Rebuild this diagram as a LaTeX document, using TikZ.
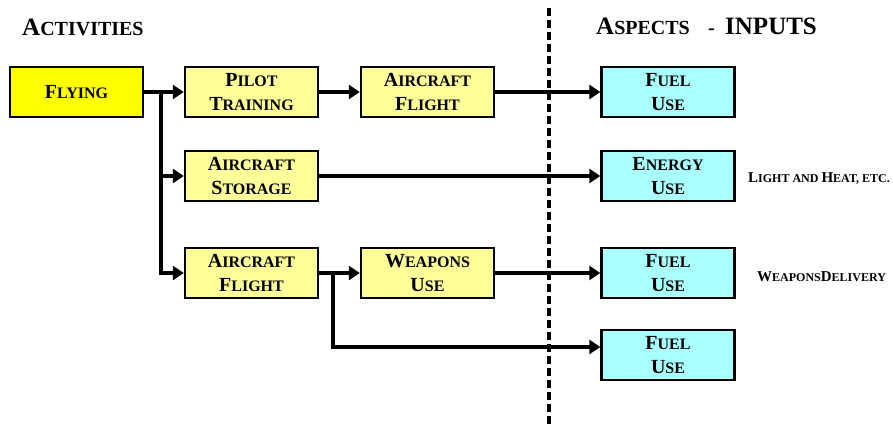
\documentclass[tikz,border=0pt]{standalone}
\usepackage{fontspec}
\setmainfont{Liberation Serif}
\usetikzlibrary{arrows.meta}
\definecolor{flyyel}{RGB}{255,255,0}
\definecolor{ltyel}{RGB}{255,255,153}
\definecolor{ltcyan}{RGB}{170,255,255}
\newcommand\bsc[2]{{\fontsize{20}{24}\selectfont #1}{\fontsize{16}{24}\selectfont #2}}
\newcommand\hsc[2]{{\fontsize{25}{30}\selectfont #1}{\fontsize{20}{30}\selectfont #2}}
\newcommand\lsc[2]{{\fontsize{15}{18}\selectfont #1}{\fontsize{12}{18}\selectfont #2}}
\begin{document}
\begin{tikzpicture}[x=1pt,y=-1pt,
  box/.style={draw=black,line width=2.4pt,minimum width=133pt,minimum height=50pt,inner sep=0pt,align=center,font=\bfseries\fontsize{16}{24}\selectfont},
  actbox/.style={box,fill=ltyel},
  aspbox/.style={box,fill=ltcyan},
  conn/.style={line width=3.4pt,line join=miter,-{Triangle[length=11pt,width=14pt]}},
  hdr/.style={anchor=base west,inner sep=0pt,font=\bfseries},
  lbl/.style={anchor=base west,inner sep=0pt,font=\bfseries}]
\useasboundingbox (0,0) rectangle (893,425);
% headers
\node[hdr] (hact) at (22,36) {\hsc{A}{CTIVITIES}};
\node[hdr] (hasp) at (596,35) {\hsc{A}{SPECTS}};
\node[hdr] (hdash) at (708,35) {\fontsize{20}{24}\selectfont -};
\node[hdr] (hin) at (725,35) {\fontsize{25}{30}\selectfont INPUTS};
% dashed divider
\coordinate (dtop) at (549,8);
\coordinate (dbot) at (549,425);
\draw[line width=3.4pt,dash pattern=on 8pt off 4pt] (dtop) -- (dbot);
% boxes
\node[box,fill=flyyel] (fly) at (76.5,92) {\bsc{F}{LYING}};
\node[actbox] (pilot) at (251.5,92) {\bsc{P}{ILOT}\\\bsc{T}{RAINING}};
\node[actbox] (af1) at (427.5,92) {\bsc{A}{IRCRAFT}\\\bsc{F}{LIGHT}};
\node[actbox] (stor) at (251.5,176) {\bsc{A}{IRCRAFT}\\\bsc{S}{TORAGE}};
\node[actbox] (af2) at (251.5,273) {\bsc{A}{IRCRAFT}\\\bsc{F}{LIGHT}};
\node[actbox] (weap) at (427.5,273) {\bsc{W}{EAPONS}\\\bsc{U}{SE}};
\node[aspbox] (fuel1) at (668,92) {\bsc{F}{UEL}\\\bsc{U}{SE}};
\node[aspbox] (energy) at (668,176) {\bsc{E}{NERGY}\\\bsc{U}{SE}};
\node[aspbox] (fuel3) at (668,273) {\bsc{F}{UEL}\\\bsc{U}{SE}};
\node[aspbox] (fuel4) at (668,355) {\bsc{F}{UEL}\\\bsc{U}{SE}};
% side labels
\node[lbl] (light) at (748,182) {\lsc{L}{IGHT AND }\lsc{H}{EAT, ETC.}};
\node[lbl] (wdel) at (757,281) {\lsc{W}{EAPONS}\lsc{D}{ELIVERY}};
% connectors
\coordinate (j1) at (161,92);
\coordinate (j1b) at (161,176);
\coordinate (j1c) at (161,273);
\coordinate (j2) at (333,273);
\coordinate (j2b) at (333,347);
\draw[conn] (fly.east) -- (pilot.west);
\draw[conn] (j1) -- (j1c) -- (af2.west);
\draw[conn] (j1b) -- (stor.west);
\draw[conn] (pilot.east) -- (af1.west);
\draw[conn] (af1.east) -- (fuel1.west);
\draw[conn] (stor.east) -- (energy.west);
\draw[conn] (af2.east) -- (weap.west);
\draw[conn] (weap.east) -- (fuel3.west);
\draw[conn] (j2) -- (j2b) -- (fuel4.west |- j2b);
\end{tikzpicture}
\end{document}
